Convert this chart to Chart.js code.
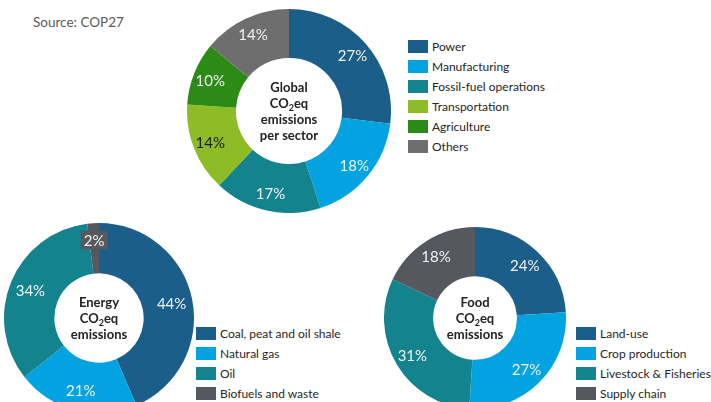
<!DOCTYPE html>
<html>
<head>
<meta charset="utf-8">
<script src="https://cdn.jsdelivr.net/npm/chart.js@4.4.0/dist/chart.umd.min.js"></script>
<style>
  html, body { margin: 0; padding: 0; background: #fff; overflow: hidden; }
  body { width: 711px; height: 402px; position: relative; font-family: Lato, "Open Sans", sans-serif; }
  .box { position: absolute; }
  .source { position: absolute; left: 33px; top: 14px; font-size: 13.5px; color: #595959; }
  .legend { position: absolute; font-size: 12px; color: #262626; }
  .legend div { height: 20px; display: flex; align-items: center; white-space: nowrap; }
  .legend span { display: inline-block; width: 20px; height: 13px; margin-right: 4px; }
</style>
</head>
<body>
<div class="source">Source: COP27</div>

<div class="box" style="left:187px;top:9px"><canvas id="global" width="204" height="204"></canvas></div>
<div class="box" style="left:4px;top:223px"><canvas id="energy" width="190" height="190"></canvas></div>
<div class="box" style="left:384px;top:227px"><canvas id="food" width="182" height="182"></canvas></div>

<div class="legend" id="legGlobal" style="left:408px;top:36px"></div>
<div class="legend" id="legEnergy" style="left:196px;top:323px"></div>
<div class="legend" id="legFood" style="left:576px;top:323px"></div>

<script>
// global emissions per sector
const globalLabels = ['Power', 'Manufacturing', 'Fossil-fuel operations', 'Transportation', 'Agriculture', 'Others'];
const globalValues = [27, 18, 17, 14, 10, 14];
const globalColors = ['#1b5e8a', '#02a3e0', '#13838d', '#8dbc26', '#2c8a17', '#6e6e6e'];
const globalText = ['Global', 'CO_2eq', 'emissions', 'per sector'];

// energy emissions
const energyLabels = ['Coal, peat and oil shale', 'Natural gas', 'Oil', 'Biofuels and waste'];
const energyValues = [44, 21, 34, 2];
const energyColors = ['#1b5e8a', '#02a3e0', '#13838d', '#55585e'];
const energyText = ['Energy', 'CO_2eq', 'emissions'];

// food emissions
const foodLabels = ['Land-use', 'Crop production', 'Livestock & Fisheries', 'Supply chain'];
const foodValues = [24, 27, 31, 18];
const foodColors = ['#1b5e8a', '#02a3e0', '#13838d', '#55585e'];
const foodText = ['Food', 'CO_2eq', 'emissions'];

const FONT = 'Lato, "Open Sans", sans-serif';

// percentage labels on the ring
const sliceLabels = {
	id: 'sliceLabels',
	afterDatasetsDraw(chart, args, opts) {
		const ctx = chart.ctx;
		const meta = chart.getDatasetMeta(0);
		const data = chart.data.datasets[0].data;
		ctx.save();
		ctx.font = '15px ' + FONT;
		ctx.textAlign = 'center';
		ctx.textBaseline = 'middle';
		meta.data.forEach((arc, i) => {
			const p = arc.getProps(['x', 'y', 'startAngle', 'endAngle', 'outerRadius'], true);
			const mid = (p.startAngle + p.endAngle) / 2;
			const r = p.outerRadius * (opts.radius || 0.8) + ((opts.shift || {})[i] || 0);
			const x = p.x + Math.cos(mid) * r;
			const y = p.y + Math.sin(mid) * r;
			const txt = Math.round(data[i]) + '%';
			if ((opts.boxed || []).includes(i)) {
				const w = ctx.measureText(txt).width + 6;
				ctx.fillStyle = chart.data.datasets[0].backgroundColor[i];
				ctx.fillRect(x - w / 2, y - 9, w, 18);
			}
			ctx.fillStyle = (opts.dark || []).includes(i) ? '#1a1a1a' : '#f2f2f2';
			ctx.fillText(txt, x, y + 1);
		});
		ctx.restore();
	}
};

// bold text in the hole, with CO2 subscript
const centerText = {
	id: 'centerText',
	afterDraw(chart, args, opts) {
		const ctx = chart.ctx;
		const meta = chart.getDatasetMeta(0);
		const cx = meta.data[0].x;
		const cy = meta.data[0].y;
		const lines = opts.lines;
		const lh = 16;
		ctx.save();
		ctx.fillStyle = '#222';
		ctx.textBaseline = 'middle';
		lines.forEach((line, k) => {
			const y = cy + (k - (lines.length - 1) / 2) * lh + 1;
			const parts = line.split('_');
			if (parts.length === 1) {
				ctx.font = 'bold 13px ' + FONT;
				ctx.textAlign = 'center';
				ctx.fillText(line, cx, y);
				return;
			}
			const head = parts[0], sub = parts[1].charAt(0), tail = parts[1].slice(1);
			ctx.font = 'bold 13px ' + FONT;
			const w1 = ctx.measureText(head).width, w3 = ctx.measureText(tail).width;
			ctx.font = 'bold 9px ' + FONT;
			const w2 = ctx.measureText(sub).width;
			let x = cx - (w1 + w2 + w3) / 2;
			ctx.textAlign = 'left';
			ctx.font = 'bold 13px ' + FONT;
			ctx.fillText(head, x, y);
			x += w1;
			ctx.font = 'bold 9px ' + FONT;
			ctx.fillText(sub, x, y + 4);
			x += w2;
			ctx.font = 'bold 13px ' + FONT;
			ctx.fillText(tail, x, y);
		});
		ctx.restore();
	}
};

function makeDonut(id, labels, values, colors, cutout, lines, labelOpts) {
	return new Chart(document.getElementById(id), {
		type: 'doughnut',
		data: {
			labels: labels,
			datasets: [{ data: values, backgroundColor: colors, borderWidth: 0, hoverOffset: 0 }],
		},
		options: {
			responsive: false,
			animation: false,
			cutout: cutout,
			layout: { padding: 0 },
			plugins: {
				legend: { display: false },
				tooltip: { enabled: false },
				sliceLabels: labelOpts,
				centerText: { lines: lines },
			},
		},
		plugins: [sliceLabels, centerText],
	});
}

function makeLegend(id, labels, colors) {
	const el = document.getElementById(id);
	labels.forEach((l, i) => {
		const row = document.createElement('div');
		const sw = document.createElement('span');
		sw.style.background = colors[i];
		row.appendChild(sw);
		row.appendChild(document.createTextNode(l));
		el.appendChild(row);
	});
}

makeDonut('global', globalLabels, globalValues, globalColors, '52%', globalText, { radius: 0.83, dark: [3] });
makeDonut('energy', energyLabels, energyValues, energyColors, '47%', energyText, { radius: 0.78, boxed: [3], shift: { 3: 4 } });
makeDonut('food', foodLabels, foodValues, foodColors, '46%', foodText, { radius: 0.8 });

makeLegend('legGlobal', globalLabels, globalColors);
makeLegend('legEnergy', energyLabels, energyColors);
makeLegend('legFood', foodLabels, foodColors);
</script>
</body>
</html>
